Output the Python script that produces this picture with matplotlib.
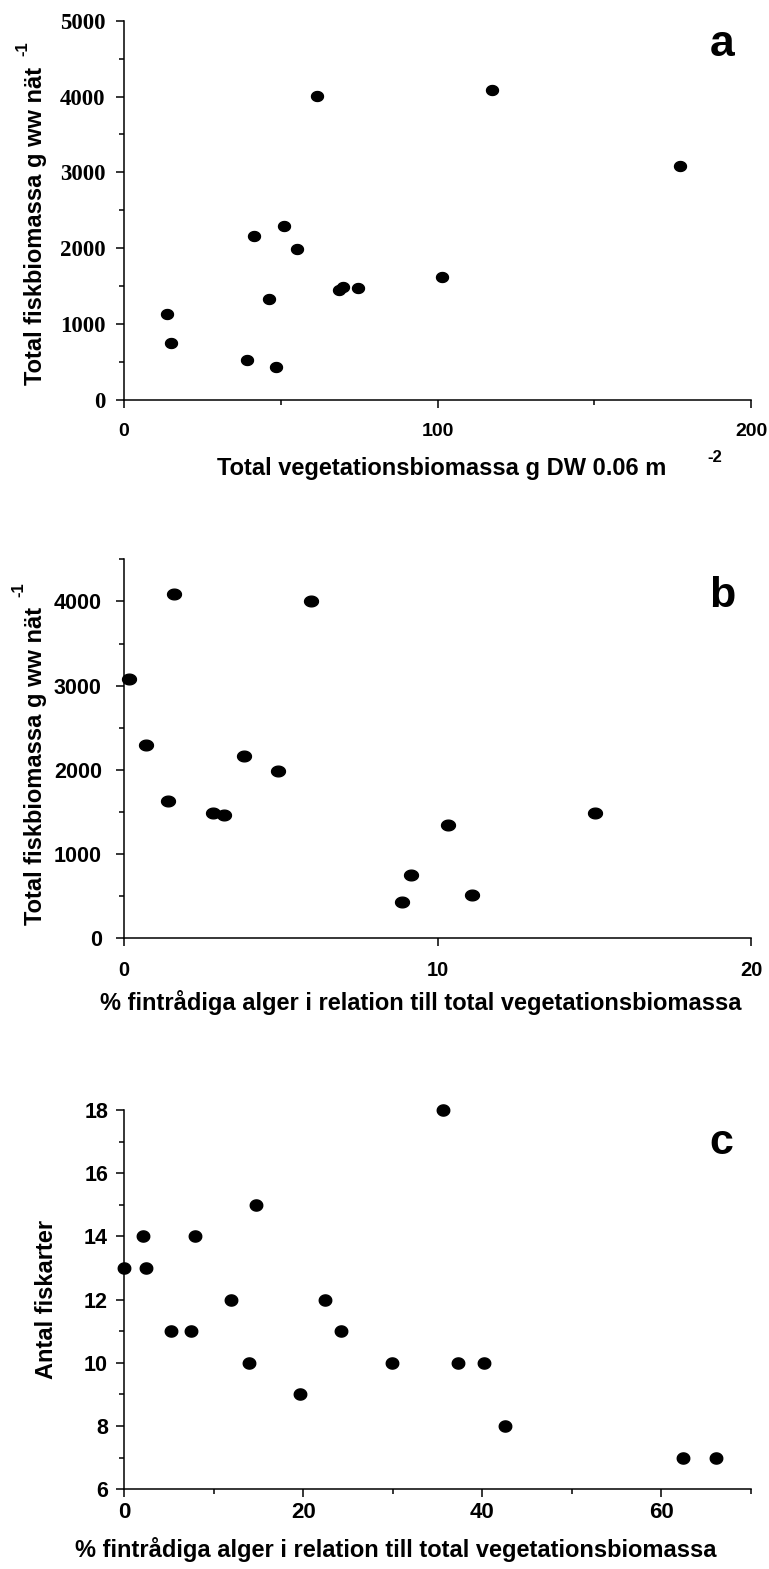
import numpy as np
import matplotlib
matplotlib.use("Agg")
import matplotlib.pyplot as plt
from matplotlib.ticker import MultipleLocator, NullLocator

# ---------------- data ----------------
# Panel a: total vegetation biomass vs total fish biomass
veg_biomass_a = [13.6, 14.9, 39.1, 41.6, 46.2, 48.5, 50.9, 55.1, 61.7, 68.6, 70.0, 74.8, 101.3, 117.4, 177.2]
fish_biomass_a = [1130, 755, 525, 2160, 1335, 440, 2295, 1985, 4005, 1445, 1495, 1470, 1625, 4090, 3080]

# Panel b: % filamentous algae vs total fish biomass
alg_pct_b = [0.17, 0.69, 1.39, 1.58, 2.85, 3.2, 3.84, 4.90, 5.96, 8.86, 9.15, 10.35, 11.11, 15.02]
fish_biomass_b = [3080, 2290, 1625, 4090, 1485, 1465, 2170, 1990, 4010, 430, 755, 1340, 515, 1485]

# Panel c: % filamentous algae vs number of fish species
alg_pct_c = [0, 2.1, 2.5, 5.2, 7.5, 7.9, 12.0, 13.9, 14.7, 19.7, 22.4, 24.2, 29.9, 35.6, 37.3, 40.2, 42.5, 62.4, 66.1]
species_c = [13, 14, 13, 11, 11, 14, 12, 10, 15, 9, 12, 11, 10, 18, 10, 10, 8, 7, 7]

# ---------------- layout ----------------
W, H = 769, 1569
DPI = 100
fig = plt.figure(figsize=(W / DPI, H / DPI), dpi=DPI)
fig.patch.set_facecolor("white")

SANS = "Liberation Sans"
SERIF = "Liberation Serif"


def rect(left, right, top, bottom):
    return [left / W, 1 - bottom / H, (right - left) / W, (bottom - top) / H]


def fx(px):
    return px / W


def fy(py):
    return 1 - py / H


def ellipse_marker(aspect):
    t = np.linspace(0, 2 * np.pi, 60)
    return list(zip(aspect * np.cos(t), np.sin(t)))


def style(ax, xt_size, yt_size, yfont, xpad, ypad):
    for s in ("top", "right"):
        ax.spines[s].set_visible(False)
    for s in ("left", "bottom"):
        ax.spines[s].set_linewidth(1.1)
        ax.spines[s].set_color("black")
    ax.tick_params(axis="both", which="major", direction="out", length=5.5, width=1.1, color="black")
    ax.tick_params(axis="both", which="minor", direction="out", length=3.5, width=1.1, color="black")
    ax.tick_params(axis="x", pad=xpad, labelsize=xt_size)
    ax.tick_params(axis="y", pad=ypad, labelsize=yt_size)
    for lab in ax.get_xticklabels():
        lab.set_fontfamily(SANS)
        lab.set_fontweight("bold")
    for lab in ax.get_yticklabels():
        lab.set_fontfamily(yfont)
        lab.set_fontweight("bold")
    ax.set_facecolor("white")


# ---- panel a ----
ax_a = fig.add_axes(rect(124, 751, 20.7, 400))
ax_a.plot(veg_biomass_a, fish_biomass_a, linestyle="none", marker=ellipse_marker(1.2),
          markersize=8.6, color="black", clip_on=False, zorder=3)
ax_a.set_xlim(0, 200)
ax_a.set_ylim(0, 5000)
ax_a.xaxis.set_major_locator(MultipleLocator(100))
ax_a.xaxis.set_minor_locator(MultipleLocator(50))
ax_a.yaxis.set_major_locator(MultipleLocator(1000))
ax_a.yaxis.set_minor_locator(MultipleLocator(500))
style(ax_a, 14, 16.5, SERIF, 11, 8)

# ---- panel b ----
ax_b = fig.add_axes(rect(124, 751, 559.3, 938.3))
ax_b.plot(alg_pct_b, fish_biomass_b, linestyle="none", marker=ellipse_marker(1.3),
          markersize=10.0, color="black", clip_on=False, zorder=3)
ax_b.set_xlim(0, 20)
ax_b.set_ylim(0, 4500)
ax_b.xaxis.set_major_locator(MultipleLocator(10))
ax_b.xaxis.set_minor_locator(NullLocator())
ax_b.yaxis.set_major_locator(MultipleLocator(1000))
ax_b.yaxis.set_minor_locator(MultipleLocator(500))
ax_b.set_yticks([0, 1000, 2000, 3000, 4000])
style(ax_b, 14.5, 15.5, SANS, 11, 10.5)

# ---- panel c ----
ax_c = fig.add_axes(rect(124, 751, 1110, 1489.3))
ax_c.plot(alg_pct_c, species_c, linestyle="none", marker=ellipse_marker(1.12),
          markersize=9.0, color="black", clip_on=False, zorder=3)
ax_c.set_xlim(0, 70)
ax_c.set_ylim(6, 18)
ax_c.xaxis.set_major_locator(MultipleLocator(20))
ax_c.xaxis.set_minor_locator(MultipleLocator(10))
ax_c.yaxis.set_major_locator(MultipleLocator(2))
ax_c.yaxis.set_minor_locator(MultipleLocator(1))
style(ax_c, 16, 15.5, SANS, 4, 6)

# ---------------- texts ----------------
lab_kw = dict(family=SANS, weight="bold", color="black")

# panel a labels
fig.text(fx(442), fy(475), "Total vegetationsbiomassa g DW 0.06 m", ha="center", va="baseline",
         fontsize=17, **lab_kw)
fig.text(fx(715), fy(457), "-2", ha="center", va="center", fontsize=12, **lab_kw)
fig.text(fx(42), fy(226), "Total fiskbiomassa g ww nät", ha="center", va="baseline",
         rotation=90, rotation_mode="anchor", fontsize=17, **lab_kw)
fig.text(fx(23), fy(49), "-1", ha="center", va="center", rotation=90, fontsize=12, **lab_kw)
fig.text(fx(721.7), fy(56.5), "a", ha="center", va="baseline", fontsize=32, **lab_kw)

# panel b labels
fig.text(fx(421), fy(1010), "% fintrådiga alger i relation till total vegetationsbiomassa",
         ha="center", va="baseline", fontsize=17, **lab_kw)
fig.text(fx(42), fy(766), "Total fiskbiomassa g ww nät", ha="center", va="baseline",
         rotation=90, rotation_mode="anchor", fontsize=17, **lab_kw)
fig.text(fx(18.5), fy(590), "-1", ha="center", va="center", rotation=90, fontsize=12, **lab_kw)
fig.text(fx(722.5), fy(607.3), "b", ha="center", va="baseline", fontsize=31, **lab_kw)

# panel c labels
fig.text(fx(396), fy(1556.5), "% fintrådiga alger i relation till total vegetationsbiomassa",
         ha="center", va="baseline", fontsize=17, **lab_kw)
fig.text(fx(53), fy(1299), "Antal fiskarter", ha="center", va="baseline",
         rotation=90, rotation_mode="anchor", fontsize=17, **lab_kw)
fig.text(fx(721.7), fy(1154), "c", ha="center", va="baseline", fontsize=31, **lab_kw)

fig.savefig("out.png", dpi=DPI, facecolor="white")
